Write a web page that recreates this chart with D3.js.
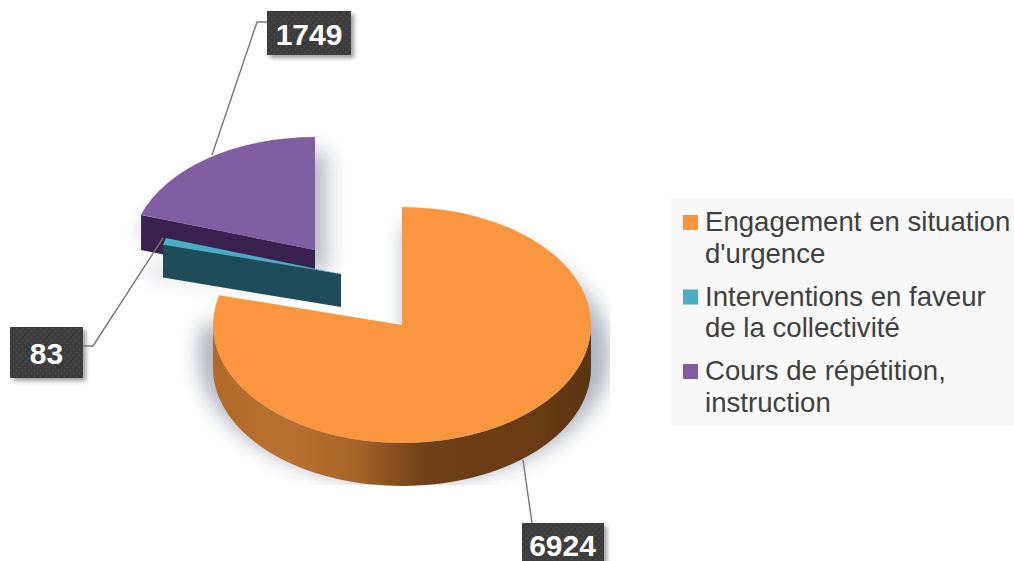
<!DOCTYPE html>
<html><head><meta charset="utf-8">
<script src="https://cdn.jsdelivr.net/npm/d3@7/dist/d3.min.js"></script>
<style>html,body{margin:0;padding:0;background:#fff;overflow:hidden}svg{display:block}</style>
</head><body><svg id="c" width="1014" height="561"></svg>
<script>
const categories = ["Engagement en situation|d'urgence","Interventions en faveur|de la collectivité","Cours de répétition,|instruction"];
const values = [6924, 83, 1749];
const colors = ["#f9963f","#4bacc6","#7f5fa2"];
const wallColors = ["#6f3f14","#1f4c59","#3a2250"];

const svg = d3.select("#c");
const defs = svg.append("defs");
const blur = defs.append("filter").attr("id","sh").attr("x","-30%").attr("y","-30%").attr("width","160%").attr("height","160%");
blur.append("feGaussianBlur").attr("stdDeviation",10);
const blur2 = defs.append("filter").attr("id","sh2").attr("x","-30%").attr("y","-30%").attr("width","160%").attr("height","160%");
blur2.append("feGaussianBlur").attr("stdDeviation",2);
const pat = defs.append("pattern").attr("id","dots").attr("width",6).attr("height",6).attr("patternUnits","userSpaceOnUse");
pat.append("rect").attr("width",6).attr("height",6).attr("fill","#3b3b3b");
pat.append("circle").attr("cx",1.5).attr("cy",1.5).attr("r",.9).attr("fill","#4d4d4d");
pat.append("circle").attr("cx",4.5).attr("cy",4.5).attr("r",.9).attr("fill","#4d4d4d");
const wg = defs.append("linearGradient").attr("id","wall0").attr("x1",0).attr("x2",1).attr("y1",0).attr("y2",0);
[[0,"#b06a28"],[.2,"#b87030"],[.38,"#a86428"],[.47,"#8a5220"],[.56,"#6f4018"],[.82,"#6b3c14"],[1,"#5a3510"]]
  .forEach(d=>wg.append("stop").attr("offset",d[0]).attr("stop-color",d[1]));
defs.append("clipPath").attr("id","shClip").append("rect").attr("x",0).attr("y",0).attr("width",610).attr("height",485);

const pie = d3.pie().sort(null).value(d=>d);
const arcs = pie(values);

// slice layouts: centre, radii and extrusion depth
const layout = [
  {cx:402,cy:325,rx:189,ry:118,depth:43},
  {cx:341,cy:274,rx:184,ry:116,depth:33},
  {cx:315,cy:250,rx:183,ry:113,depth:35}
];
const unit = d3.arc().innerRadius(0).outerRadius(1);
const rim = (a,l,dy=0)=>[l.cx+l.rx*Math.sin(a), l.cy-l.ry*Math.cos(a)+dy];
const samples = (a0,a1)=>d3.range(0,61).map(i=>a0+(a1-a0)*i/60);
const line = d3.line();

function topFace(g,i){
  const l=layout[i];
  g.append("path").attr("d",unit(arcs[i]))
   .attr("transform",`translate(${l.cx},${l.cy}) scale(${l.rx},${l.ry})`)
   .attr("fill",colors[i]);
}
function outerWall(g,i,a0,a1,fill){
  const l=layout[i];
  const top=samples(a0,a1).map(a=>rim(a,l));
  const bot=samples(a1,a0).map(a=>rim(a,l,l.depth));
  g.append("path").attr("d",line(top.concat(bot))+"Z").attr("fill",fill);
}
function cutWall(g,i,a,fill){
  const l=layout[i];
  const p=rim(a,l);
  g.append("path").attr("d",line([[l.cx,l.cy],p,[p[0],p[1]+l.depth],[l.cx,l.cy+l.depth]])+"Z").attr("fill",fill);
}
function shadow(i,dx,dy,k,op){
  const l=layout[i];
  const g=svg.append("g").attr("clip-path","url(#shClip)").append("g").attr("filter","url(#sh)").attr("opacity",op);
  g.append("path").attr("d",unit(arcs[i]))
   .attr("transform",`translate(${l.cx+dx},${l.cy+dy+l.depth/2}) scale(${l.rx*k},${l.ry*k})`)
   .attr("fill","#868b9e");
}

// shadows
shadow(2,12,6,1.08,.6); shadow(1,-6,12,1.06,.55); shadow(0,2,8,1.09,.65);

// purple
const gP=svg.append("g");
cutWall(gP,2,arcs[2].startAngle,wallColors[2]);
topFace(gP,2);
// teal
const gT=svg.append("g");
cutWall(gT,1,arcs[1].startAngle,wallColors[1]);
topFace(gT,1);
// orange
const gO=svg.append("g");
outerWall(gO,0,Math.PI/2,3*Math.PI/2,"url(#wall0)");
topFace(gO,0);

// leaders
const leaders = svg.append("g").attr("fill","none").attr("stroke","#777").attr("stroke-width",1.4);

// value labels
const labels=[
  {v:values[0],x:522,y:523,w:82,h:44,tx:562.5,ty:556,pts:[[532,523],[523,460]]},
  {v:values[1],x:10,y:327,w:73,h:51,tx:46.5,ty:363.5,pts:[[83,346],[93,346],[163,238]]},
  {v:values[2],x:267,y:11,w:84,h:44,tx:309,ty:44.5,pts:[[267,22],[257,22],[212,155]]}
];
labels.forEach(d=>{
  leaders.append("path").attr("d",line(d.pts));
  svg.append("rect").attr("x",d.x+3).attr("y",d.y+3).attr("width",d.w).attr("height",d.h)
     .attr("fill","#777").attr("opacity",.7).attr("filter","url(#sh2)");
  svg.append("rect").attr("x",d.x).attr("y",d.y).attr("width",d.w).attr("height",d.h).attr("fill","url(#dots)");
  svg.append("text").attr("x",d.tx).attr("y",d.ty).attr("text-anchor","middle")
     .attr("font-family","Liberation Sans").attr("font-weight",700).attr("font-size",30).attr("fill","#fff").text(d.v);
});

// legend
const legend=svg.append("g");
legend.append("rect").attr("x",670).attr("y",198).attr("width",344).attr("height",227).attr("fill","#f9f9f9");
const legendY=d3.scalePoint().domain(categories).range([231,380]);
categories.forEach((c,i)=>{
  const y=legendY(c);
  legend.append("rect").attr("x",683).attr("y",y-16).attr("width",15).attr("height",15).attr("fill",colors[i]);
  c.split("|").forEach((t,j)=>legend.append("text").attr("x",705).attr("y",y+j*31.5)
     .attr("font-family","Liberation Sans").attr("font-size",27.6).attr("fill","#404040").text(t));
});
</script></body></html>
